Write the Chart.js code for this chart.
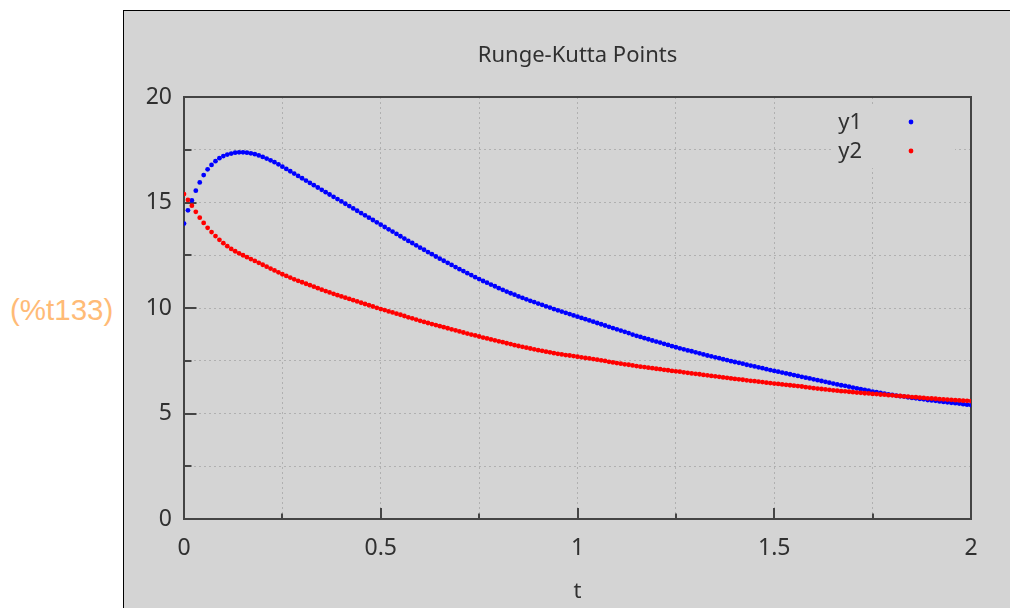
<!DOCTYPE html>
<html>
<head>
<meta charset="utf-8">
<script src="https://cdn.jsdelivr.net/npm/chart.js@4"></script>
<style>
  html, body { margin: 0; padding: 0; background: #ffffff; }
  body { width: 1010px; height: 608px; position: relative; overflow: hidden; }
  #label {
    position: absolute; left: 10px; top: 292px;
    font-family: "Liberation Sans", Arial, sans-serif; font-size: 29.5px;
    color: #ffbb77; line-height: 36px; white-space: nowrap;
  }
  #panel {
    position: absolute; left: 123px; top: 10px; width: 887px; height: 598px;
    box-sizing: border-box; background: #d4d4d4;
    border-left: 1px solid #000; border-top: 1px solid #000;
  }
  #chart { position: absolute; left: 0; top: 0; }
</style>
</head>
<body>
<div id="label">(%t133)</div>
<div id="panel"><canvas id="chart" width="886" height="597"></canvas></div>
<script>
// Runge-Kutta solution, step h = 0.01 on t in [0, 2]
const tStart = 0;
const tStep = 0.01;

const y1 = [
  14.00, 14.63, 15.10, 15.56, 15.95, 16.30, 16.57, 16.78, 16.96, 17.10,
  17.20, 17.27, 17.32, 17.36, 17.38, 17.38, 17.36, 17.33, 17.29, 17.23,
  17.16, 17.08, 17.00, 16.91, 16.81, 16.70, 16.59, 16.48, 16.37, 16.26,
  16.15, 16.04, 15.93, 15.82, 15.71, 15.60, 15.49, 15.38, 15.27, 15.16,
  15.05, 14.94, 14.83, 14.72, 14.61, 14.50, 14.39, 14.28, 14.17, 14.06,
  13.95, 13.84, 13.73, 13.62, 13.51, 13.40, 13.29, 13.18, 13.08, 12.97,
  12.86, 12.76, 12.65, 12.55, 12.44, 12.34, 12.24, 12.14, 12.04, 11.94,
  11.84, 11.75, 11.65, 11.56, 11.46, 11.37, 11.28, 11.20, 11.11, 11.03,
  10.94, 10.86, 10.78, 10.70, 10.63, 10.55, 10.48, 10.41, 10.34, 10.28,
  10.21, 10.15, 10.08, 10.02, 9.95, 9.89, 9.83, 9.77, 9.71, 9.65,
  9.59, 9.53, 9.47, 9.41, 9.35, 9.29, 9.23, 9.17, 9.11, 9.05,
  8.99, 8.93, 8.87, 8.81, 8.74, 8.68, 8.63, 8.57, 8.52, 8.46,
  8.41, 8.36, 8.30, 8.25, 8.19, 8.14, 8.09, 8.04, 7.99, 7.95,
  7.90, 7.85, 7.80, 7.75, 7.71, 7.66, 7.62, 7.57, 7.53, 7.48,
  7.44, 7.40, 7.36, 7.31, 7.27, 7.23, 7.19, 7.15, 7.10, 7.06,
  7.02, 6.98, 6.94, 6.90, 6.86, 6.82, 6.78, 6.74, 6.70, 6.66,
  6.62, 6.58, 6.54, 6.50, 6.46, 6.42, 6.38, 6.34, 6.31, 6.27,
  6.23, 6.19, 6.15, 6.12, 6.08, 6.04, 6.01, 5.98, 5.94, 5.91,
  5.88, 5.85, 5.82, 5.80, 5.77, 5.74, 5.72, 5.69, 5.67, 5.64,
  5.62, 5.60, 5.57, 5.55, 5.53, 5.51, 5.49, 5.47, 5.44, 5.42,
  5.40
];

const y2 = [
  15.40, 15.12, 14.85, 14.56, 14.28, 14.03, 13.80, 13.60, 13.41, 13.23,
  13.07, 12.93, 12.80, 12.69, 12.59, 12.50, 12.41, 12.32, 12.23, 12.14,
  12.05, 11.96, 11.87, 11.78, 11.69, 11.60, 11.52, 11.44, 11.36, 11.29,
  11.22, 11.15, 11.08, 11.01, 10.94, 10.87, 10.80, 10.74, 10.67, 10.61,
  10.55, 10.49, 10.43, 10.37, 10.31, 10.25, 10.19, 10.13, 10.07, 10.01,
  9.95, 9.90, 9.84, 9.79, 9.73, 9.68, 9.62, 9.56, 9.51, 9.45,
  9.39, 9.34, 9.29, 9.24, 9.19, 9.14, 9.09, 9.04, 8.99, 8.94,
  8.89, 8.84, 8.79, 8.74, 8.70, 8.65, 8.60, 8.56, 8.51, 8.47,
  8.42, 8.38, 8.33, 8.29, 8.24, 8.20, 8.16, 8.12, 8.08, 8.04,
  8.00, 7.97, 7.93, 7.90, 7.86, 7.83, 7.80, 7.77, 7.75, 7.72,
  7.69, 7.66, 7.63, 7.61, 7.58, 7.55, 7.52, 7.49, 7.45, 7.42,
  7.39, 7.36, 7.33, 7.31, 7.28, 7.25, 7.22, 7.20, 7.17, 7.15,
  7.12, 7.10, 7.07, 7.05, 7.02, 7.00, 6.98, 6.95, 6.93, 6.90,
  6.88, 6.86, 6.83, 6.81, 6.78, 6.76, 6.74, 6.71, 6.69, 6.66,
  6.64, 6.62, 6.60, 6.57, 6.55, 6.53, 6.51, 6.49, 6.46, 6.44,
  6.42, 6.40, 6.38, 6.36, 6.34, 6.32, 6.30, 6.28, 6.25, 6.23,
  6.20, 6.18, 6.16, 6.14, 6.12, 6.10, 6.08, 6.06, 6.05, 6.03,
  6.01, 5.99, 5.98, 5.96, 5.95, 5.93, 5.92, 5.90, 5.89, 5.87,
  5.86, 5.84, 5.83, 5.81, 5.80, 5.78, 5.77, 5.75, 5.74, 5.72,
  5.71, 5.70, 5.68, 5.67, 5.66, 5.65, 5.63, 5.62, 5.61, 5.60,
  5.59
];

const seriesNames = ['y1', 'y2'];
const seriesColors = ['#0000ff', '#ff0000'];
const xTickLabels = ['0', '0.5', '1', '1.5', '2'];
const yTickLabels = ['0', '5', '10', '15', '20'];

const t = y1.map((_, i) => +(tStart + i * tStep).toFixed(2));

const TEXT = '#303030';
const AXIS = '#444444';
const GRID = '#b0b0b0';
const PANEL_BG = '#d4d4d4';
const FONT = '"Noto Sans", "DejaVu Sans", sans-serif';

// gnuplot-style frame with inward tics
const framePlugin = {
  id: 'frame',
  beforeDatasetsDraw(chart) {
    const { ctx, chartArea: a, scales } = chart;
    ctx.save();
    ctx.strokeStyle = AXIS;
    ctx.lineWidth = 2;
    ctx.beginPath();
    scales.x.ticks.forEach(tk => {
      const px = Math.round(scales.x.getPixelForValue(tk.value));
      const major = Math.abs(tk.value * 2 - Math.round(tk.value * 2)) < 1e-9;
      ctx.moveTo(px, a.bottom);
      ctx.lineTo(px, a.bottom - (major ? 11 : 5.5));
    });
    scales.y.ticks.forEach(tk => {
      const py = Math.round(scales.y.getPixelForValue(tk.value));
      const major = Math.abs(tk.value / 5 - Math.round(tk.value / 5)) < 1e-9;
      ctx.moveTo(a.left, py);
      ctx.lineTo(a.left + (major ? 12.5 : 7.5), py);
    });
    ctx.stroke();
    ctx.strokeRect(Math.round(a.left), Math.round(a.top),
                   Math.round(a.right - a.left), Math.round(a.bottom - a.top));
    ctx.restore();
  }
};

// key in the upper right: label, then a sample point, on an opaque box
const keyPlugin = {
  id: 'key',
  afterDatasetsDraw(chart) {
    const { ctx, chartArea: a } = chart;
    ctx.save();
    ctx.fillStyle = PANEL_BG;
    ctx.fillRect(a.right - 138, a.top + 10, 122, 61);
    ctx.font = '22px ' + FONT;
    ctx.textAlign = 'right';
    ctx.textBaseline = 'middle';
    chart.data.datasets.forEach((ds, i) => {
      const y = a.top + 25 + i * 29;
      ctx.fillStyle = TEXT;
      ctx.fillText(ds.label, a.right - 109, y + 1);
      ctx.fillStyle = ds.backgroundColor;
      ctx.beginPath();
      ctx.arc(a.right - 60, y, 2.4, 0, Math.PI * 2);
      ctx.fill();
    });
    ctx.restore();
  }
};

const isLabeled = (v, list) => list.includes(String(v));

new Chart(document.getElementById('chart'), {
  type: 'scatter',
  data: {
    datasets: [y1, y2].map((ys, k) => ({
      label: seriesNames[k],
      data: t.map((x, i) => ({ x, y: ys[i] })),
      backgroundColor: seriesColors[k],
      borderColor: seriesColors[k],
      borderWidth: 0,
      pointRadius: 2.4,
      pointHoverRadius: 2.4,
      order: 1 - k
    }))
  },
  options: {
    responsive: false,
    animation: false,
    events: [],
    layout: { padding: { left: 0, right: 39, top: 0, bottom: 0 } },
    plugins: {
      legend: { display: false },
      tooltip: { enabled: false },
      title: {
        display: true,
        fullSize: false,   // centred over the plot area only
        text: 'Runge-Kutta Points',
        color: TEXT,
        font: { family: FONT, size: 22, weight: 'normal' },
        padding: { top: 32, bottom: 27.6 }
      }
    },
    scales: {
      x: {
        type: 'linear', min: 0, max: 2,
        afterFit(s) { s.height = 89; },
        grid: { color: GRID, lineWidth: 1, drawTicks: false },
        border: { display: false, dash: [2, 3] },
        ticks: {
          stepSize: 0.25, autoSkip: false, maxRotation: 0, padding: 16,
          color: TEXT, font: { family: FONT, size: 23 },
          callback: v => isLabeled(v, xTickLabels) ? String(v) : ''
        },
        title: {
          display: true, text: 't', color: TEXT,
          font: { family: FONT, size: 22 },
          padding: { top: 0, bottom: 3 }
        }
      },
      y: {
        type: 'linear', min: 0, max: 20,
        afterFit(s) { s.width = 60; },
        grid: { color: GRID, lineWidth: 1, drawTicks: false },
        border: { display: false, dash: [2, 3] },
        ticks: {
          stepSize: 2.5, autoSkip: false, padding: 12,
          color: TEXT, font: { family: FONT, size: 23 },
          callback: v => isLabeled(v, yTickLabels) ? String(v) : ''
        }
      }
    }
  },
  plugins: [framePlugin, keyPlugin]
});
</script>
</body>
</html>
